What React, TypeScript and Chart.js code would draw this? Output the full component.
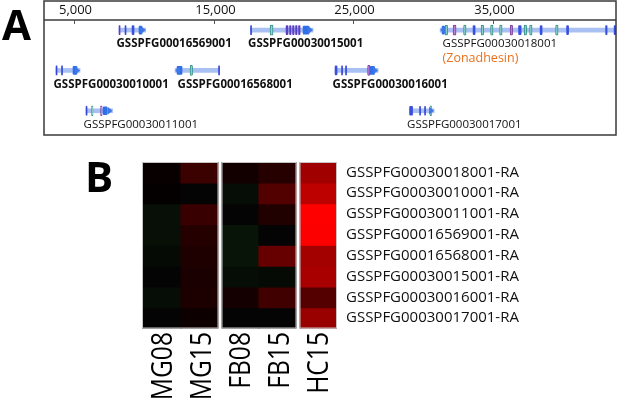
import React, { useEffect, useRef } from 'react';
import { Chart, registerables } from 'chart.js';

Chart.register(...registerables);

// ---------------- Panel A: gene track ----------------
const AXIS_TICKS = [5000, 15000, 25000, 35000];
const AXIS_MIN = 2850;
const AXIS_MAX = 43800;

const GENE_NAMES = [
  'GSSPFG00016569001',
  'GSSPFG00030015001',
  'GSSPFG00030018001',
  'GSSPFG00030010001',
  'GSSPFG00016568001',
  'GSSPFG00030016001',
  'GSSPFG00030011001',
  'GSSPFG00030017001',
];
const GENE_ROWS = [0, 0, 0, 1, 1, 1, 2, 2];
const GENE_STARTS = [8222, 17637, 31206, 3711, 12232, 23688, 5859, 29022];
const GENE_ENDS = [10134, 22112, 43772, 5430, 15418, 26766, 7757, 30776];
const GENE_STRANDS = [1, 1, -1, 1, -1, 1, 1, 1];
const GENE_BOLD = [true, true, false, true, true, true, false, false];
const GENE_NOTES = ['', '', '(Zonadhesin)', '', '', '', '', ''];

// [gene index, start, end, kind]
const EXONS: [number, number, number, string][] = [
  [0, 8222, 8294, 'violet'], [0, 8652, 8723, 'tick'], [0, 9153, 9296, 'blue'], [0, 9654, 9869, 'cds'],
  [1, 17637, 17709, 'tick'], [1, 19034, 19248, 'teal'], [1, 20179, 20322, 'violet'], [1, 20430, 20537, 'violet'],
  [1, 20645, 20752, 'violet'], [1, 20859, 20967, 'violet'], [1, 21074, 21182, 'violet'], [1, 21396, 21826, 'cds'],
  [2, 31349, 31528, 'cds'], [2, 31564, 31743, 'teal'], [2, 32136, 32351, 'purple'], [2, 32888, 33067, 'teal'],
  [2, 33568, 33712, 'blue'], [2, 34141, 34320, 'teal'], [2, 34821, 35000, 'teal'], [2, 35466, 35645, 'teal'],
  [2, 36218, 36397, 'purple'], [2, 36826, 37005, 'blue'], [2, 37220, 37399, 'teal'], [2, 37614, 37793, 'teal'],
  [2, 38366, 38509, 'blue'], [2, 39475, 39654, 'teal'], [2, 40263, 40406, 'blue'], [2, 43055, 43162, 'blue'],
  [2, 43664, 43772, 'blue'],
  [3, 3711, 3783, 'tick'], [3, 4105, 4177, 'tick'], [3, 4928, 5215, 'cds'],
  [4, 12375, 12733, 'cds'], [4, 13306, 13485, 'teal'], [4, 15346, 15418, 'tick'],
  [5, 23688, 23831, 'blue'], [5, 24153, 24225, 'tick'], [5, 24439, 24511, 'tick'], [5, 26015, 26194, 'purple'],
  [5, 26194, 26516, 'cds'],
  [6, 5859, 5931, 'tick'], [6, 6253, 6360, 'teal'], [6, 6897, 7005, 'purple'], [6, 7076, 7363, 'cds'],
  [7, 29022, 29237, 'blue'], [7, 29738, 29809, 'tick'], [7, 30096, 30167, 'tick'], [7, 30490, 30597, 'teal'],
];

// ---------------- Panel B: heatmap ----------------
const HEAT_GENES = [
  'GSSPFG00030018001-RA',
  'GSSPFG00030010001-RA',
  'GSSPFG00030011001-RA',
  'GSSPFG00016569001-RA',
  'GSSPFG00016568001-RA',
  'GSSPFG00030015001-RA',
  'GSSPFG00030016001-RA',
  'GSSPFG00030017001-RA',
];
const HEAT_COLUMNS = ['MG08', 'MG15', 'FB08', 'FB15', 'HC15'];
const HEAT_GROUPS = ['MG', 'MG', 'FB', 'FB', 'HC'];
const MG08 = [0.03, 0.02, -0.06, -0.06, -0.04, 0.0, -0.05, 0.0];
const MG15 = [0.23, 0.0, 0.22, 0.14, 0.12, 0.1, 0.11, 0.05];
const FB08 = [0.07, -0.05, 0.0, -0.08, -0.08, -0.05, 0.08, 0.0];
const FB15 = [0.15, 0.32, 0.13, 0.01, 0.4, -0.04, 0.25, 0.01];
const HC15 = [0.63, 0.74, 1.0, 0.99, 0.64, 0.66, 0.33, 0.6];
const HEAT_VALUES = [MG08, MG15, FB08, FB15, HC15];

// ---------------- styles ----------------
const FONT = '"Open Sans", "Liberation Sans", sans-serif';
const EXON_STYLE: Record<string, { bg: string; border: string; bw: number; thick: number }> = {
  tick: { bg: '#3446d6', border: '#3446d6', bw: 0, thick: 9 },
  violet: { bg: '#5a3fc6', border: '#5a3fc6', bw: 0, thick: 9 },
  blue: { bg: '#3a4fe0', border: '#3a4fe0', bw: 0, thick: 9 },
  cds: { bg: '#2f6fe8', border: '#2f6fe8', bw: 0, thick: 8 },
  teal: { bg: '#93d6cb', border: '#2f8f86', bw: 1, thick: 10 },
  purple: { bg: '#c47bd6', border: '#7c3d9c', bw: 1, thick: 10 },
};

function heatColor(v: number) {
  const c = Math.round(Math.min(1, Math.abs(v)) * 255);
  if (v >= 0) return `rgb(${Math.max(c, 4)},${c < 4 ? 4 : 0},${c < 4 ? 4 : 0})`;
  return `rgb(${Math.round(c * 0.45)},${c},${Math.round(c * 0.45)})`;
}

const trackPlugin = {
  id: 'trackDecor',
  afterDatasetsDraw(chart: any) {
    const ctx = chart.ctx;
    const { left, right, bottom } = chart.chartArea;
    const xs = chart.scales.x;
    const ys = chart.scales.y;
    ctx.save();
    // frame + header line
    ctx.strokeStyle = '#3a3a3a';
    ctx.lineWidth = 1.5;
    ctx.strokeRect(left, xs.top, right - left, bottom - xs.top);
    ctx.beginPath();
    ctx.moveTo(left, xs.bottom);
    ctx.lineTo(right, xs.bottom);
    ctx.stroke();
    // ticks + labels
    ctx.lineWidth = 1;
    ctx.textAlign = 'center';
    ctx.textBaseline = 'middle';
    ctx.font = `13px ${FONT}`;
    xs.ticks.forEach((t: any) => {
      const px = Math.round(xs.getPixelForValue(t.value)) + 0.5;
      ctx.strokeStyle = '#555';
      ctx.beginPath();
      ctx.moveTo(px, xs.bottom);
      ctx.lineTo(px, xs.bottom + 4);
      ctx.stroke();
      ctx.fillStyle = '#111';
      ctx.fillText(Number(t.value).toLocaleString('en-US'), px + 1, xs.bottom - 9.5);
    });
    // arrows + labels
    GENE_NAMES.forEach((name, i) => {
      const y = ys.getPixelForValue(GENE_ROWS[i]);
      const s = GENE_STRANDS[i];
      const tip = xs.getPixelForValue(s > 0 ? GENE_ENDS[i] : GENE_STARTS[i]);
      const base = tip - s * 5;
      ctx.fillStyle = '#3f78e6';
      ctx.beginPath();
      ctx.moveTo(base, y - 4);
      ctx.lineTo(tip, y);
      ctx.lineTo(base, y + 4);
      ctx.closePath();
      ctx.fill();
      const lx = xs.getPixelForValue(GENE_STARTS[i]) + (s > 0 ? -2.5 : 2.5);
      ctx.textAlign = 'left';
      ctx.textBaseline = 'middle';
      ctx.fillStyle = '#111';
      ctx.font = `${GENE_BOLD[i] ? 'bold ' : ''}11.5px ${FONT}`;
      ctx.fillText(name, lx, y + 14);
      if (GENE_NOTES[i]) {
        ctx.fillStyle = '#e8701e';
        ctx.font = `12.5px ${FONT}`;
        ctx.fillText(GENE_NOTES[i], lx, y + 28.5);
      }
    });
    ctx.restore();
  },
};

const heatPlugin = {
  id: 'heatDecor',
  afterDatasetsDraw(chart: any) {
    const ctx = chart.ctx;
    const { left, right, top, bottom } = chart.chartArea;
    const xs = chart.scales.x;
    const n = HEAT_COLUMNS.length;
    const w = (right - left) / n;
    ctx.save();
    let g0 = 0;
    for (let i = 1; i <= n; i++) {
      if (i === n || HEAT_GROUPS[i] !== HEAT_GROUPS[i - 1]) {
        const x0 = left + g0 * w + (g0 > 0 ? 1.5 : 0);
        const x1 = left + i * w - (i < n ? 1.5 : 0);
        if (i < n) {
          ctx.fillStyle = '#ffffff';
          ctx.fillRect(x1, top - 1, 3, bottom - top + 2);
        }
        ctx.strokeStyle = '#c4c4c4';
        ctx.lineWidth = 1;
        ctx.strokeRect(x0 + 0.5, top + 0.5, x1 - x0 - 1, bottom - top - 1);
        g0 = i;
      }
    }
    // rotated column labels (slightly condensed like the original)
    const size = 30;
    ctx.fillStyle = '#000';
    ctx.font = `${size}px ${FONT}`;
    ctx.textAlign = 'right';
    ctx.textBaseline = 'alphabetic';
    HEAT_COLUMNS.forEach((lab, i) => {
      const cx = xs.getPixelForValue(i);
      ctx.save();
      ctx.translate(cx, bottom + 3.5);
      ctx.rotate(-Math.PI / 2);
      ctx.scale(0.82, 1);
      ctx.fillText(lab, 0, size * 0.714 / 2);
      ctx.restore();
    });
    ctx.restore();
  },
};

export default function App() {
  const refA = useRef<HTMLCanvasElement>(null);
  const refB = useRef<HTMLCanvasElement>(null);

  useEffect(() => {
    const kinds = Object.keys(EXON_STYLE);
    const exonSets = kinds.map((k) => ({
      label: k,
      data: EXONS.filter((e) => e[3] === k).map((e) => ({ x: [e[1], e[2]], y: GENE_ROWS[e[0]] })),
      backgroundColor: EXON_STYLE[k].bg,
      borderColor: EXON_STYLE[k].border,
      borderWidth: EXON_STYLE[k].bw,
      borderSkipped: false,
      borderRadius: 1,
      barThickness: EXON_STYLE[k].thick,
      grouped: false,
    }));
    const intronSet = {
      label: 'gene',
      data: GENE_NAMES.map((_, i) => ({ x: [GENE_STARTS[i], GENE_ENDS[i]], y: GENE_ROWS[i] })),
      backgroundColor: '#a9c0f3',
      borderWidth: 0,
      barThickness: 4,
      grouped: false,
    };
    const chartA = new Chart(refA.current as HTMLCanvasElement, {
      type: 'bar',
      data: { datasets: [...exonSets, intronSet] as any },
      options: {
        indexAxis: 'y',
        responsive: false,
        animation: false,
        layout: { padding: { left: 44, right: 4, top: 1, bottom: 275 } },
        plugins: { legend: { display: false }, tooltip: { enabled: false } },
        scales: {
          x: {
            type: 'linear',
            position: 'top',
            min: AXIS_MIN,
            max: AXIS_MAX,
            offset: false,
            afterBuildTicks: (s: any) => {
              s.ticks = AXIS_TICKS.map((v) => ({ value: v }));
            },
            afterFit: (s: any) => {
              s.height = 19;
            },
            grid: { display: false, drawTicks: false },
            border: { display: false },
            ticks: { display: false },
          },
          y: { type: 'linear', min: -0.25, max: 2.6, reverse: true, display: false, offset: false },
        },
      },
      plugins: [trackPlugin],
    } as any);

    const heatSets = HEAT_GENES.map((g, r) => ({
      label: g,
      data: HEAT_COLUMNS.map(() => [r, r + 1]),
      backgroundColor: HEAT_VALUES.map((col) => heatColor(col[r])),
      borderWidth: 0,
      barPercentage: 1,
      categoryPercentage: 1,
      grouped: false,
      inflateAmount: 0.6,
      yAxisID: 'y',
    }));
    const chartB = new Chart(refB.current as HTMLCanvasElement, {
      type: 'bar',
      data: { labels: HEAT_COLUMNS, datasets: heatSets as any },
      options: {
        responsive: false,
        animation: false,
        layout: { padding: { left: 142, right: 83, top: 162, bottom: 1.5 } },
        plugins: { legend: { display: false }, tooltip: { enabled: false } },
        scales: {
          x: {
            type: 'category',
            position: 'bottom',
            grid: { display: false, drawTicks: false },
            border: { display: false },
            afterFit: (s: any) => {
              s.height = 80;
            },
            ticks: { display: false },
          },
          y: { type: 'linear', min: 0, max: 8, reverse: true, display: false },
          y2: {
            type: 'category',
            position: 'right',
            labels: HEAT_GENES,
            offset: true,
            grid: { display: false, drawTicks: false, tickLength: 0 },
            border: { display: false },
            afterFit: (s: any) => {
              s.width = 200;
            },
            ticks: {
              autoSkip: false,
              padding: 9,
              color: '#111',
              font: { family: FONT, size: 15 },
            },
          },
        },
      },
      plugins: [heatPlugin],
    } as any);

    return () => {
      chartA.destroy();
      chartB.destroy();
    };
  }, []);

  const letter: React.CSSProperties = {
    position: 'absolute',
    fontFamily: FONT,
    fontWeight: 'bold',
    color: '#000',
    lineHeight: 1,
    fontSize: 42,
  };

  return (
    <div style={{ position: 'absolute', left: 0, top: 0, width: 620, height: 410, background: '#fff', overflow: 'hidden' }}>
      <canvas ref={refA} width={620} height={410} style={{ position: 'absolute', left: 0, top: 0 }} />
      <canvas ref={refB} width={620} height={410} style={{ position: 'absolute', left: 0, top: 0 }} />
      <div style={{ ...letter, left: 2, top: 3 }}>A</div>
      <div style={{ ...letter, left: 85, top: 155 }}>B</div>
    </div>
  );
}
